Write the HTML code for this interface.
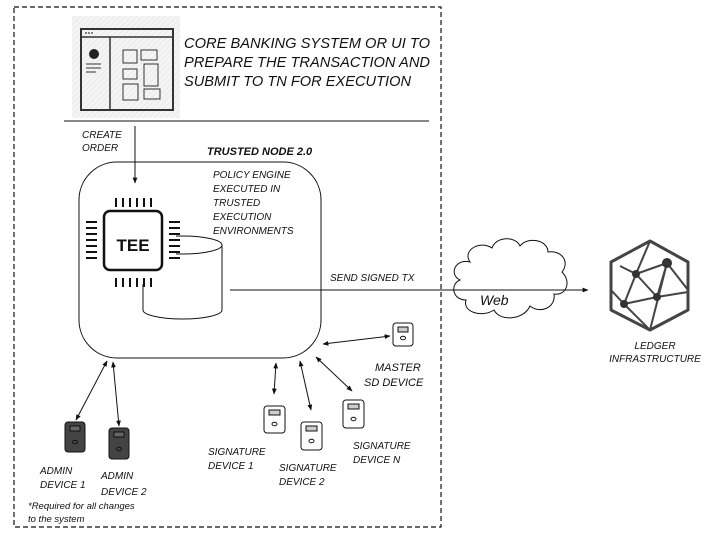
<!DOCTYPE html>
<html><head><meta charset="utf-8"><style>
html,body{margin:0;padding:0;background:#fff;}
svg{display:block;}
text{font-family:"Liberation Sans",Arial,sans-serif;font-style:italic;fill:#111;}
</style></head><body>
<svg width="708" height="533" viewBox="0 0 708 533" xmlns="http://www.w3.org/2000/svg">
<defs>
<marker id="a" viewBox="0 0 10 10" refX="9" refY="5" markerWidth="6" markerHeight="6" orient="auto-start-reverse"><path d="M0,1 L10,5 L0,9 z" fill="#111"/></marker>
<pattern id="h" width="4" height="4" patternUnits="userSpaceOnUse" patternTransform="rotate(45)"><rect width="4" height="4" fill="#f4f4f4"/><line x1="0" y1="0" x2="0" y2="4" stroke="#e6e6e6" stroke-width="1.5"/></pattern>
</defs>
<rect x="14" y="7" width="427" height="520" fill="none" stroke="#111" stroke-width="1.2" stroke-dasharray="5,3"/>
<!-- UI icon -->
<rect x="72" y="16" width="108" height="102" fill="url(#h)"/>
<rect x="81" y="29" width="92" height="81" fill="none" stroke="#333" stroke-width="2"/>
<line x1="81" y1="37" x2="173" y2="37" stroke="#333" stroke-width="1.5"/>
<line x1="110" y1="37" x2="110" y2="110" stroke="#333" stroke-width="1.5"/>
<circle cx="86" cy="33" r="0.9" fill="#333"/><circle cx="89" cy="33" r="0.9" fill="#333"/><circle cx="92" cy="33" r="0.9" fill="#333"/>
<circle cx="94" cy="54" r="5" fill="#222"/>
<line x1="86" y1="64" x2="101" y2="64" stroke="#333"/><line x1="86" y1="68" x2="101" y2="68" stroke="#333"/><line x1="86" y1="72" x2="96" y2="72" stroke="#333"/>
<g fill="none" stroke="#333" stroke-width="1">
<rect x="123" y="50" width="14" height="13"/><rect x="141" y="50" width="16" height="10"/>
<rect x="123" y="69" width="14" height="10"/><rect x="144" y="64" width="14" height="22"/>
<rect x="123" y="84" width="15" height="16"/><rect x="144" y="89" width="16" height="10"/>
</g>
<g font-size="14.5">
<text x="184" y="48" textLength="246" lengthAdjust="spacingAndGlyphs">CORE BANKING SYSTEM OR UI TO</text>
<text x="184" y="67" textLength="246" lengthAdjust="spacingAndGlyphs">PREPARE THE TRANSACTION AND</text>
<text x="184" y="86" textLength="227" lengthAdjust="spacingAndGlyphs">SUBMIT TO TN FOR EXECUTION</text>
</g>
<line x1="64" y1="121" x2="429" y2="121" stroke="#111"/>
<text x="82" y="138" font-size="10">CREATE</text>
<text x="82" y="151" font-size="10">ORDER</text>
<line x1="135" y1="126" x2="135" y2="183" stroke="#111" marker-end="url(#a)"/>
<text x="207" y="155" font-size="11" font-weight="bold">TRUSTED NODE 2.0</text>
<rect x="79" y="162" width="242" height="196" rx="38" fill="none" stroke="#111"/>
<g font-size="10">
<text x="213" y="178">POLICY ENGINE</text><text x="213" y="192">EXECUTED IN</text><text x="213" y="206">TRUSTED</text><text x="213" y="220">EXECUTION</text><text x="213" y="234">ENVIRONMENTS</text>
</g>
<!-- cylinder -->
<path d="M143,245 L143,310 A39.5,9 0 0 0 222,310 L222,245" fill="#fff" stroke="#111"/>
<ellipse cx="182.5" cy="245" rx="39.5" ry="9" fill="#fff" stroke="#111"/>
<!-- chip -->
<rect x="96" y="200" width="80" height="84" fill="#fff"/>
<rect x="104" y="211" width="58" height="59" rx="6" fill="#fff" stroke="#111" stroke-width="2.5"/>
<text x="133" y="251" font-size="17" font-weight="bold" text-anchor="middle" style="font-style:normal">TEE</text>
<g stroke="#111" stroke-width="2">
<path d="M116,198v9M123,198v9M130,198v9M137,198v9M144,198v9M151,198v9"/>
<path d="M116,278v9M123,278v9M130,278v9M137,278v9M144,278v9M151,278v9"/>
<path d="M86,222h11M86,228h11M86,234h11M86,240h11M86,246h11M86,252h11M86,258h11"/>
<path d="M169,222h11M169,228h11M169,234h11M169,240h11M169,246h11M169,252h11M169,258h11"/>
</g>
<!-- cloud -->
<path d="M470,262 C462,250 480,240 492,248 C496,236 516,236 520,246 C528,236 548,240 548,252 C562,250 570,262 562,272 C572,282 566,296 554,294 C556,308 540,314 530,306 C524,320 500,322 494,310 C482,318 462,312 466,300 C452,300 450,284 460,280 C448,274 456,258 470,262 Z" fill="#fff" stroke="#111"/>
<line x1="230" y1="290" x2="588" y2="290" stroke="#111" marker-end="url(#a)"/>
<text x="330" y="281" font-size="10">SEND SIGNED TX</text>
<text x="480" y="305" font-size="14">Web</text>
<!-- ledger -->
<g stroke="#444" stroke-width="3" fill="none" stroke-linejoin="round">
<polygon points="650,241 688,262 688,310 650,330 611,310 611,262"/>
</g>
<g stroke="#444" stroke-width="2">
<line x1="636" y1="274" x2="667" y2="263"/><line x1="636" y1="274" x2="657" y2="297"/><line x1="636" y1="274" x2="624" y2="304"/>
<line x1="667" y1="263" x2="657" y2="297"/><line x1="624" y1="304" x2="657" y2="297"/><line x1="657" y1="297" x2="688" y2="292"/>
<line x1="667" y1="263" x2="650" y2="330"/><line x1="624" y1="304" x2="650" y2="330"/><line x1="636" y1="274" x2="650" y2="241"/>
<line x1="620" y1="266" x2="636" y2="274"/><line x1="667" y1="263" x2="688" y2="290"/><line x1="611" y1="290" x2="624" y2="304"/>
</g>
<g fill="#333"><circle cx="636" cy="274" r="4"/><circle cx="667" cy="263" r="5"/><circle cx="657" cy="297" r="4"/><circle cx="624" cy="304" r="4"/></g>
<text x="655" y="349" font-size="10" text-anchor="middle">LEDGER</text>
<text x="655" y="362" font-size="10" text-anchor="middle">INFRASTRUCTURE</text>
<!-- devices -->
<g stroke="#111" stroke-width="1">
<g transform="translate(393,323)"><rect width="20" height="23" rx="3" fill="#fff"/><rect x="5" y="4" width="10" height="5" fill="#ccc"/><ellipse cx="10" cy="15" rx="2.5" ry="1.8" fill="#fff"/></g>
<g transform="translate(264,406)"><rect width="21" height="27" rx="3" fill="#fff"/><rect x="5" y="4" width="11" height="5" fill="#ccc"/><ellipse cx="10.5" cy="18" rx="2.5" ry="1.8" fill="#fff"/></g>
<g transform="translate(301,422)"><rect width="21" height="28" rx="3" fill="#fff"/><rect x="5" y="4" width="11" height="5" fill="#ccc"/><ellipse cx="10.5" cy="19" rx="2.5" ry="1.8" fill="#fff"/></g>
<g transform="translate(343,400)"><rect width="21" height="28" rx="3" fill="#fff"/><rect x="5" y="4" width="11" height="5" fill="#ccc"/><ellipse cx="10.5" cy="19" rx="2.5" ry="1.8" fill="#fff"/></g>
<g transform="translate(65,422)"><rect width="20" height="30" rx="3" fill="#444"/><rect x="5" y="4" width="10" height="5" fill="#666"/><ellipse cx="10" cy="20" rx="2.5" ry="1.8" fill="#444"/></g>
<g transform="translate(109,428)"><rect width="20" height="31" rx="3" fill="#444"/><rect x="5" y="4" width="10" height="5" fill="#666"/><ellipse cx="10" cy="21" rx="2.5" ry="1.8" fill="#444"/></g>
</g>
<g stroke="#111" stroke-width="1" marker-start="url(#a)" marker-end="url(#a)">
<line x1="76" y1="420" x2="107" y2="361"/>
<line x1="119" y1="426" x2="113" y2="362"/>
<line x1="274" y1="394" x2="276" y2="363"/>
<line x1="311" y1="410" x2="300" y2="361"/>
<line x1="352" y1="391" x2="316" y2="357"/>
<line x1="323" y1="344" x2="390" y2="336"/>
</g>
<g font-size="11">
<text x="375" y="371">MASTER</text><text x="364" y="386">SD DEVICE</text>
</g>
<g font-size="10">
<text x="208" y="455">SIGNATURE</text><text x="208" y="469">DEVICE 1</text>
<text x="279" y="471">SIGNATURE</text><text x="279" y="485">DEVICE 2</text>
<text x="353" y="449">SIGNATURE</text><text x="353" y="463">DEVICE N</text>
<text x="40" y="474">ADMIN</text><text x="40" y="488">DEVICE 1</text>
<text x="101" y="479">ADMIN</text><text x="101" y="495">DEVICE 2</text>
<text x="28" y="509" font-size="9.5">*Required for all changes</text>
<text x="28" y="522" font-size="9.5">to the system</text>
</g>
</svg>
</body></html>
